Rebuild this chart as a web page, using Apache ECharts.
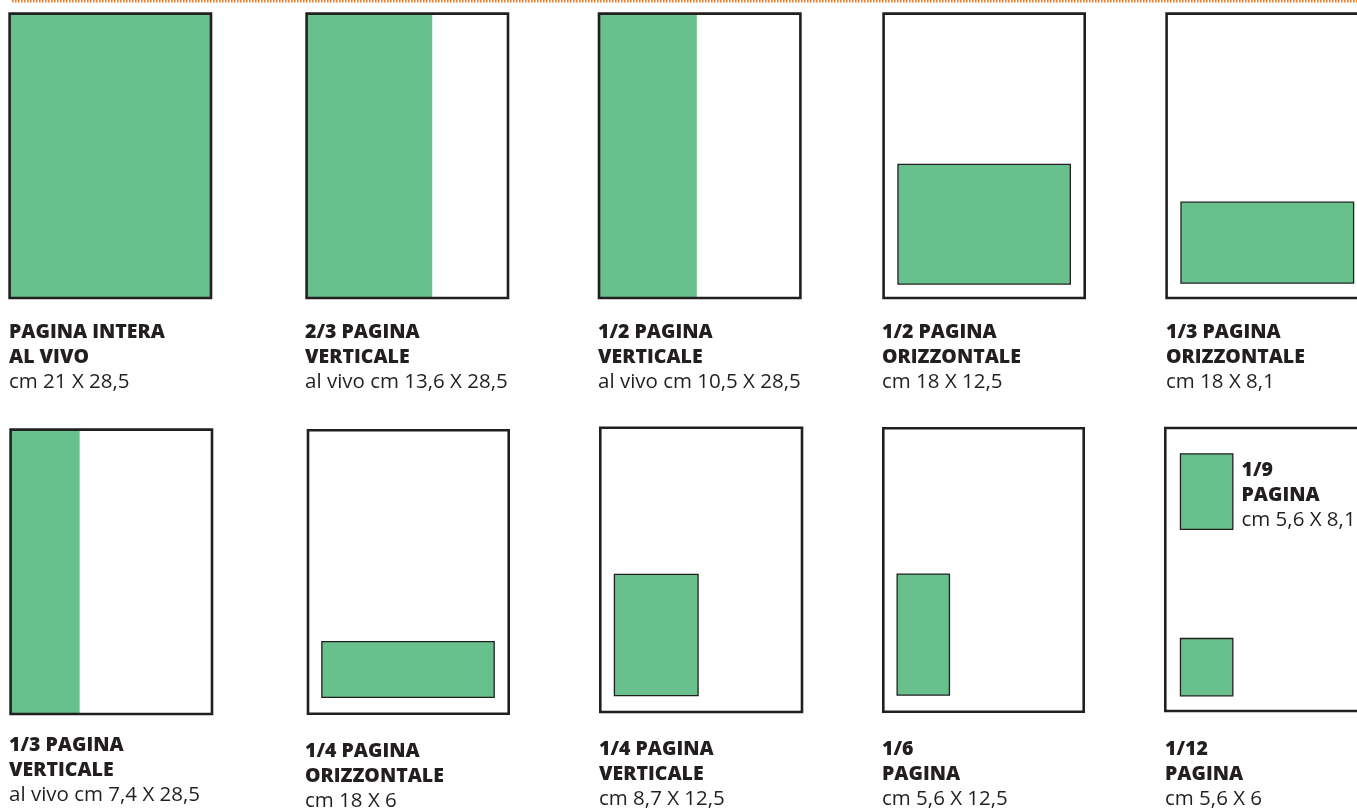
<!DOCTYPE html>
<html><head><meta charset="utf-8">
<script src="https://cdn.jsdelivr.net/npm/echarts@6/dist/echarts.min.js"></script>
<style>html,body{margin:0;padding:0;background:#fff;overflow:hidden}#c{width:1357px;height:810px;}</style>
</head><body><div id="c"></div>
<script>
// ---------------- data ----------------
const formatTitle1 = ['PAGINA INTERA','2/3 PAGINA','1/2 PAGINA','1/2 PAGINA','1/3 PAGINA','1/3 PAGINA','1/4 PAGINA','1/4 PAGINA','1/6','1/9','1/12'];
const formatTitle2 = ['AL VIVO','VERTICALE','VERTICALE','ORIZZONTALE','ORIZZONTALE','VERTICALE','ORIZZONTALE','VERTICALE','PAGINA','PAGINA','PAGINA'];
const formatSize = ['cm 21 X 28,5','al vivo cm 13,6 X 28,5','al vivo cm 10,5 X 28,5','cm 18 X 12,5','cm 18 X 8,1','al vivo cm 7,4 X 28,5','cm 18 X 6','cm 8,7 X 12,5','cm 5,6 X 12,5','cm 5,6 X 8,1','cm 5,6 X 6'];
const formatPage = [0,1,2,3,4,5,6,7,8,9,9];
const formatBleed = [1,1,1,0,0,1,0,0,0,0,0];
// drawn block on the 21 x 28.5 cm page (cm from top-left)
const blockX = [0,0,0,1.5,1.5,0,1.45,1.47,1.45,1.58,1.58];
const blockY = [0,0,0,15.1,18.9,0,21.25,14.7,14.66,2.6,21.2];
const blockW = [21,13.1,10.2,18,18,7.2,18.03,8.71,5.48,5.46,5.46];
const blockH = [28.5,28.5,28.5,12,8.1,28.5,5.6,12.16,12.17,7.6,5.77];
const pageW = 21, pageH = 28.5;

// ---------------- layout ----------------
const frames = [[8.3,12.3,204,287],[305.3,12.3,204,287],[597.7,12.3,204,287],[882.3,12.3,203.7,287],[1165.3,12.3,204,287],
  [9.3,428.3,204,287],[306.7,429,203.3,286],[599,426.5,204.3,286.8],[882,427,203,286],[1164,426.7,204,285.6]];
const labelPos = [[9,332],[305,332],[598,332],[882,332],[1166,332],[9,745.5],[305,751.5],[599,749.5],[882,749.5],[1241.5,470.5],[1165,749.5]];
const lineGap = 25;
const LW = 2.6;
const GREEN = '#68c18c', DARK = '#231f20';

const grids = frames.map(f => ({left: f[0] + LW/2, top: f[1] + LW/2, width: f[2] - LW, height: f[3] - LW, outerBoundsMode:'none', containLabel:false}));
const xAxes = frames.map((f,i) => ({type:'value', gridIndex:i, min:0, max:pageW, show:false}));
const yAxes = frames.map((f,i) => ({type:'value', gridIndex:i, min:0, max:pageH, inverse:true, show:false}));

function rectOf(api, x, y, w, h){
  const p0 = api.coord([x, y]), p1 = api.coord([x + w, y + h]);
  return {x: Math.min(p0[0],p1[0]), y: Math.min(p0[1],p1[1]), width: Math.abs(p1[0]-p0[0]), height: Math.abs(p1[1]-p0[1])};
}

const series = [];
frames.forEach((f, i) => {
  const items = [];
  formatPage.forEach((p, k) => { if (p === i) items.push([blockX[k], blockY[k], blockW[k], blockH[k], formatBleed[k]]); });
  series.push({
    type:'custom', xAxisIndex:i, yAxisIndex:i, z:2, silent:true, clip:false,
    data: items,
    renderItem: (params, api) => ({
      type:'rect',
      shape: rectOf(api, api.value(0), api.value(1), api.value(2), api.value(3)),
      style: {fill: GREEN, stroke: api.value(4) ? null : DARK, lineWidth: 1.3}
    })
  });
  series.push({
    type:'custom', xAxisIndex:i, yAxisIndex:i, z:3, silent:true, clip:false,
    data: [[0, 0, pageW, pageH]],
    renderItem: (params, api) => ({
      type:'rect',
      shape: rectOf(api, api.value(0), api.value(1), api.value(2), api.value(3)),
      style: {fill: 'none', stroke: DARK, lineWidth: LW}
    })
  });
});

const graphic = [{
  type:'line', z:10, silent:true,
  shape:{x1:12, y1:1.2, x2:1357, y2:1.2},
  style:{stroke:'#ee7f2d', lineWidth:2.4, lineDash:[1.6,1.4]}
}];
formatTitle1.forEach((t, k) => {
  const [x, y] = labelPos[k];
  const lines = [[t, 800, 19.5], [formatTitle2[k], 800, 19.5], [formatSize[k], 'normal', 20.5]];
  lines.forEach((ln, j) => {
    graphic.push({
      type:'text', x: x, y: y + j*lineGap, z:10, silent:true,
      style:{text: ln[0], fill: DARK, fontFamily:'"Open Sans", "Noto Sans", sans-serif', fontWeight: ln[1], fontSize: ln[2], align:'left', verticalAlign:'middle'}
    });
  });
});

const chart = echarts.init(document.getElementById('c'), null, {renderer:'canvas'});
chart.setOption({
  animation:false,
  backgroundColor:'#ffffff',
  grid: grids, xAxis: xAxes, yAxis: yAxes,
  series: series,
  graphic: graphic
});
</script></body></html>
